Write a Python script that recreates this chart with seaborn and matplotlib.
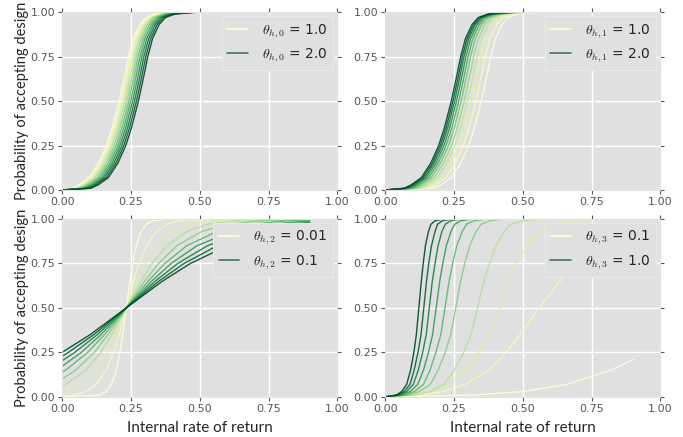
import matplotlib
matplotlib.use("Agg")
import matplotlib.pyplot as plt
from matplotlib.lines import Line2D
import seaborn as sns
import numpy as np

# acceptance probability levels at which the steep curves were traced
p_levels = [0.0, 0.01, 0.03, 0.07, 0.15, 0.25, 0.35, 0.5, 0.65, 0.75, 0.85, 0.93, 0.97, 0.99, 1.0, 1.0]

# --- panel 1: theta_h,0 ---
theta_h0 = [1.0, 1.1, 1.2, 1.3, 1.4, 1.5, 1.6, 1.7, 1.8, 1.9, 2.0]
irr_h0 = [
    [0.0, 0.035, 0.062, 0.098, 0.132, 0.161, 0.182, 0.207, 0.228, 0.241, 0.258, 0.282, 0.305, 0.340, 0.420, 0.56],
    [0.0, 0.042, 0.069, 0.105, 0.139, 0.168, 0.189, 0.214, 0.235, 0.248, 0.265, 0.289, 0.312, 0.347, 0.427, 0.56],
    [0.0, 0.049, 0.076, 0.112, 0.146, 0.175, 0.196, 0.221, 0.242, 0.255, 0.272, 0.296, 0.319, 0.354, 0.434, 0.56],
    [0.0, 0.056, 0.083, 0.119, 0.153, 0.182, 0.203, 0.228, 0.249, 0.262, 0.279, 0.303, 0.326, 0.361, 0.441, 0.56],
    [0.0, 0.063, 0.090, 0.126, 0.160, 0.189, 0.210, 0.235, 0.256, 0.269, 0.286, 0.310, 0.333, 0.368, 0.448, 0.56],
    [0.0, 0.070, 0.097, 0.133, 0.167, 0.196, 0.217, 0.242, 0.263, 0.276, 0.293, 0.317, 0.340, 0.375, 0.455, 0.56],
    [0.0, 0.077, 0.104, 0.140, 0.174, 0.203, 0.224, 0.249, 0.270, 0.283, 0.300, 0.324, 0.347, 0.382, 0.462, 0.56],
    [0.0, 0.084, 0.111, 0.147, 0.181, 0.210, 0.231, 0.256, 0.277, 0.290, 0.307, 0.331, 0.354, 0.389, 0.469, 0.56],
    [0.0, 0.091, 0.118, 0.154, 0.188, 0.217, 0.238, 0.263, 0.284, 0.297, 0.314, 0.338, 0.361, 0.396, 0.476, 0.56],
    [0.0, 0.098, 0.125, 0.161, 0.195, 0.224, 0.245, 0.270, 0.291, 0.304, 0.321, 0.345, 0.368, 0.403, 0.483, 0.56],
    [0.0, 0.105, 0.132, 0.168, 0.202, 0.231, 0.252, 0.277, 0.298, 0.311, 0.328, 0.352, 0.375, 0.410, 0.490, 0.56],
]

# --- panel 2: theta_h,1 ---
theta_h1 = [1.0, 1.1, 1.2, 1.3, 1.4, 1.5, 1.6, 1.7, 1.8, 1.9, 2.0]
irr_h1 = [
    [0.0, 0.177, 0.204, 0.240, 0.274, 0.303, 0.324, 0.349, 0.370, 0.383, 0.400, 0.424, 0.447, 0.482, 0.562, 0.62],
    [0.0, 0.157, 0.184, 0.220, 0.254, 0.283, 0.304, 0.329, 0.350, 0.363, 0.380, 0.404, 0.427, 0.462, 0.542, 0.62],
    [0.0, 0.141, 0.168, 0.204, 0.238, 0.267, 0.288, 0.313, 0.334, 0.347, 0.364, 0.388, 0.411, 0.446, 0.526, 0.62],
    [0.0, 0.127, 0.154, 0.190, 0.224, 0.253, 0.274, 0.299, 0.320, 0.333, 0.350, 0.374, 0.397, 0.432, 0.512, 0.62],
    [0.0, 0.115, 0.142, 0.178, 0.212, 0.241, 0.262, 0.287, 0.308, 0.321, 0.338, 0.362, 0.385, 0.420, 0.500, 0.62],
    [0.0, 0.104, 0.131, 0.167, 0.201, 0.230, 0.251, 0.276, 0.297, 0.310, 0.327, 0.351, 0.374, 0.409, 0.489, 0.62],
    [0.0, 0.095, 0.122, 0.158, 0.192, 0.221, 0.242, 0.267, 0.288, 0.301, 0.318, 0.342, 0.365, 0.400, 0.480, 0.62],
    [0.0, 0.087, 0.114, 0.150, 0.184, 0.213, 0.234, 0.259, 0.280, 0.293, 0.310, 0.334, 0.357, 0.392, 0.472, 0.62],
    [0.0, 0.080, 0.107, 0.143, 0.177, 0.206, 0.227, 0.252, 0.273, 0.286, 0.303, 0.327, 0.350, 0.385, 0.465, 0.62],
    [0.0, 0.074, 0.101, 0.137, 0.171, 0.200, 0.221, 0.246, 0.267, 0.280, 0.297, 0.321, 0.344, 0.379, 0.459, 0.62],
    [0.0, 0.068, 0.095, 0.131, 0.165, 0.194, 0.215, 0.240, 0.261, 0.274, 0.291, 0.315, 0.338, 0.373, 0.453, 0.62],
]

# --- panel 3: theta_h,2 ---
theta_h2 = [0.01, 0.02, 0.03, 0.04, 0.05, 0.06, 0.07, 0.08, 0.09, 0.1]
irr_h2 = [
    [0.0, 0.137, 0.160, 0.179, 0.197, 0.210, 0.220, 0.233, 0.246, 0.256, 0.269, 0.287, 0.306, 0.330, 0.38, 0.9],
    [0.0, 0.040, 0.087, 0.124, 0.160, 0.187, 0.207, 0.233, 0.259, 0.279, 0.306, 0.342, 0.379, 0.426, 0.52, 0.9],
    [0.0, 0.011, 0.067, 0.122, 0.163, 0.193, 0.233, 0.273, 0.303, 0.344, 0.399, 0.456, 0.527, 0.67, 0.9],
    [0.0, 0.013, 0.086, 0.140, 0.180, 0.233, 0.286, 0.326, 0.381, 0.453, 0.529, 0.624, 0.9],
    [0.0, 0.049, 0.117, 0.167, 0.233, 0.299, 0.350, 0.417, 0.507, 0.602, 0.720, 0.9],
    [0.0, 0.013, 0.093, 0.154, 0.233, 0.312, 0.373, 0.453, 0.562, 0.675, 0.817, 0.9],
    [0.0, 0.070, 0.141, 0.233, 0.325, 0.396, 0.490, 0.616, 0.747, 0.9],
    [0.0, 0.046, 0.128, 0.233, 0.338, 0.420, 0.528, 0.673, 0.824, 0.9],
    [0.0, 0.023, 0.115, 0.233, 0.351, 0.443, 0.564, 0.727, 0.9],
    [0.0, 0.102, 0.233, 0.364, 0.466, 0.601, 0.781, 0.9],
]
prob_h2 = [
    [0.0, 0.01, 0.03, 0.07, 0.15, 0.25, 0.35, 0.5, 0.65, 0.75, 0.85, 0.93, 0.97, 0.99, 1.0, 1.0],
    [0.004, 0.01, 0.03, 0.07, 0.15, 0.25, 0.35, 0.5, 0.65, 0.75, 0.85, 0.93, 0.97, 0.99, 1.0, 1.0],
    [0.026, 0.03, 0.07, 0.15, 0.25, 0.35, 0.5, 0.65, 0.75, 0.85, 0.93, 0.97, 0.99, 1.0, 1.0],
    [0.061, 0.07, 0.15, 0.25, 0.35, 0.5, 0.65, 0.75, 0.85, 0.93, 0.97, 0.99, 1.0],
    [0.10, 0.15, 0.25, 0.35, 0.5, 0.65, 0.75, 0.85, 0.93, 0.97, 0.99, 0.998],
    [0.138, 0.15, 0.25, 0.35, 0.5, 0.65, 0.75, 0.85, 0.93, 0.97, 0.99, 0.995],
    [0.172, 0.25, 0.35, 0.5, 0.65, 0.75, 0.85, 0.93, 0.97, 0.989],
    [0.203, 0.25, 0.35, 0.5, 0.65, 0.75, 0.85, 0.93, 0.97, 0.981],
    [0.228, 0.25, 0.35, 0.5, 0.65, 0.75, 0.85, 0.93, 0.970],
    [0.25, 0.35, 0.5, 0.65, 0.75, 0.85, 0.93, 0.959],
]

# --- panel 4: theta_h,3 ---
theta_h3 = [0.1, 0.2, 0.3, 0.4, 0.5, 0.6, 0.7, 0.8, 0.9, 1.0]
irr_h3 = [
    [0.0, 0.33, 0.50, 0.66, 0.82, 0.9],
    [0.0, 0.12, 0.215, 0.29, 0.378, 0.44, 0.49, 0.56, 0.635, 0.695, 0.78, 0.87, 0.9],
    [0.0, 0.104, 0.166, 0.232, 0.291, 0.340, 0.382, 0.415, 0.448, 0.477, 0.515, 0.560, 0.602, 0.664, 0.789, 0.9],
    [0.0, 0.111, 0.164, 0.214, 0.251, 0.285, 0.312, 0.335, 0.358, 0.379, 0.402, 0.432, 0.456, 0.496, 0.576, 0.9],
    [0.0, 0.084, 0.125, 0.164, 0.192, 0.218, 0.238, 0.256, 0.274, 0.289, 0.307, 0.330, 0.348, 0.379, 0.440, 0.9],
    [0.0, 0.072, 0.106, 0.139, 0.163, 0.184, 0.202, 0.217, 0.232, 0.245, 0.260, 0.280, 0.295, 0.321, 0.373, 0.9],
    [0.0, 0.061, 0.091, 0.118, 0.139, 0.157, 0.172, 0.185, 0.198, 0.209, 0.222, 0.239, 0.252, 0.274, 0.318, 0.9],
    [0.0, 0.053, 0.078, 0.102, 0.120, 0.136, 0.149, 0.160, 0.171, 0.181, 0.192, 0.206, 0.218, 0.237, 0.275, 0.9],
    [0.0, 0.046, 0.069, 0.090, 0.105, 0.119, 0.130, 0.140, 0.150, 0.158, 0.168, 0.181, 0.190, 0.207, 0.241, 0.9],
    [0.0, 0.040, 0.060, 0.078, 0.092, 0.104, 0.113, 0.122, 0.131, 0.138, 0.146, 0.157, 0.166, 0.181, 0.210, 0.9],
]
prob_h3 = [
    [0.0, 0.01, 0.03, 0.07, 0.15, 0.21],
    [0.0, 0.01, 0.03, 0.07, 0.15, 0.25, 0.35, 0.5, 0.65, 0.75, 0.85, 0.93, 0.945],
] + [p_levels] * 8

tick_vals = [0.0, 0.25, 0.5, 0.75, 1.0]
tick_labels = ["0.00", "0.25", "0.50", "0.75", "1.00"]

bg = "#E0E0E0"
sns.set_style("darkgrid", {
    "axes.facecolor": bg, "grid.color": "white", "axes.edgecolor": bg,
    "xtick.bottom": True, "xtick.top": True, "ytick.left": True, "ytick.right": True,
    "xtick.color": "#555555", "ytick.color": "#555555",
    "xtick.direction": "out", "ytick.direction": "out",
})
plt.rcParams["font.family"] = ["DejaVu Sans"]
plt.rcParams["mathtext.fontset"] = "cm"
plt.rcParams["xtick.major.size"] = 3
plt.rcParams["ytick.major.size"] = 3
plt.rcParams["xtick.major.pad"] = 2
plt.rcParams["ytick.major.pad"] = 2

cmap = sns.color_palette("YlGn", as_cmap=True)


def draw_panel(ax, xs, ys, thetas, sub):
    colours = cmap(np.linspace(0.03, 1.0, len(thetas)))
    for x, y, c in zip(xs, ys, colours):
        sns.lineplot(x=x, y=y, color=c, lw=1.0, alpha=0.9, ax=ax, estimator=None, sort=False)
    handles = [Line2D([], [], color=colours[0], lw=1.2), Line2D([], [], color=colours[-1], lw=1.2, alpha=0.7)]
    labels = [r"$\theta_{h,%d}$ = %s" % (sub, thetas[0]), r"$\theta_{h,%d}$ = %s" % (sub, thetas[-1])]
    leg = ax.legend(handles, labels, loc="upper right", fontsize=10, frameon=True,
                    facecolor=bg, edgecolor="#E9E9E9", framealpha=1, fancybox=False,
                    handlelength=1.5, handletextpad=1.0, borderaxespad=0.3,
                    labelspacing=0.5)
    leg.get_frame().set_linewidth(0.8)
    ax.set_xlim(0, 1)
    ax.set_ylim(0, 1)
    ax.set_xticks(tick_vals, tick_labels, fontsize=8)
    ax.set_yticks(tick_vals, tick_labels, fontsize=8)
    ax.grid(True, color="white", lw=1)
    ax.set_xlabel("")
    ax.set_ylabel("")


fig, axes = plt.subplots(2, 2, figsize=(6.83, 4.37), dpi=100)
fig.subplots_adjust(left=0.091, right=0.967, top=0.972, bottom=0.092, wspace=0.174, hspace=0.163)

h0_levels = [p_levels] * len(theta_h0)
draw_panel(axes[0, 0], irr_h0, h0_levels, theta_h0, 0)
draw_panel(axes[0, 1], irr_h1, h0_levels, theta_h1, 1)
draw_panel(axes[1, 0], irr_h2, prob_h2, theta_h2, 2)
draw_panel(axes[1, 1], irr_h3, prob_h3, theta_h3, 3)

for ax in axes[:, 0]:
    ax.set_ylabel("Probability of accepting design", fontsize=10.5, family="Lato", labelpad=1)
for ax in axes[1, :]:
    ax.set_xlabel("Internal rate of return", fontsize=11, family="Lato", labelpad=5)

plt.savefig("out.png", dpi=100)
